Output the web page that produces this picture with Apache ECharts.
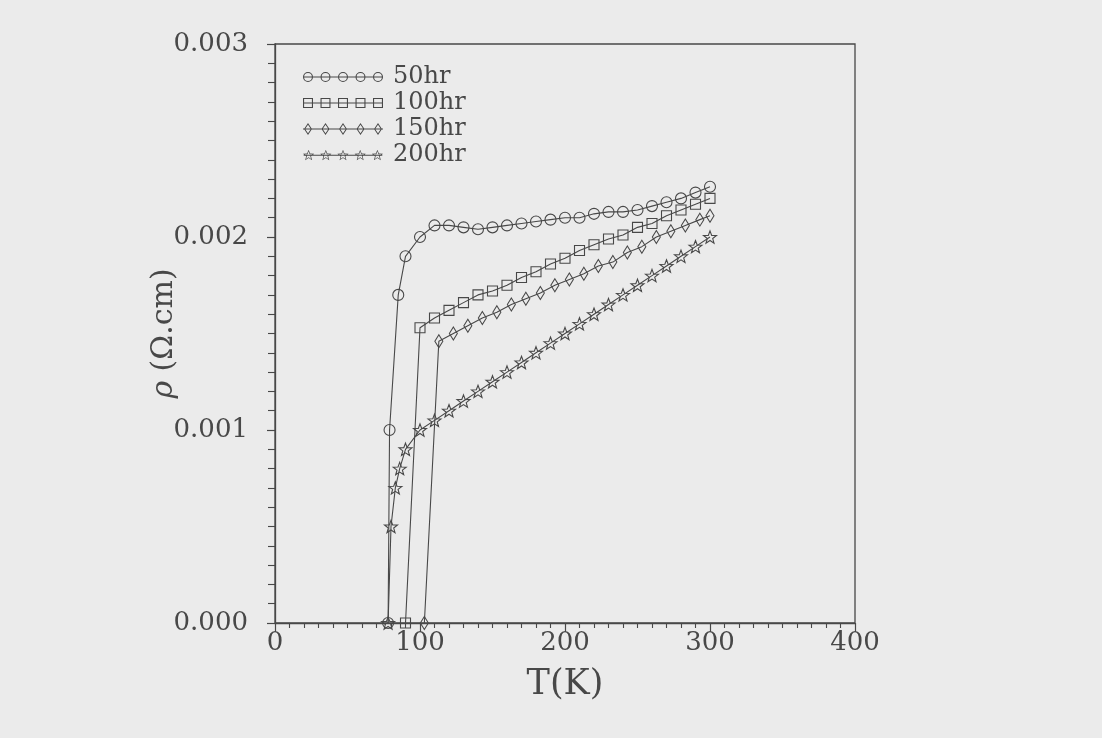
<!DOCTYPE html>
<html>
<head>
<meta charset="utf-8">
<script src="https://cdn.jsdelivr.net/npm/echarts@6/dist/echarts.min.js"></script>
<style>
  html, body { margin: 0; padding: 0; background: #ebebeb; }
  #chart { width: 1102px; height: 738px; }
</style>
</head>
<body>
<div id="chart"></div>
<script>
// Resistivity vs temperature for different milling times
const seriesNames = ['50hr', '100hr', '150hr', '200hr'];

const t50 = [78, 79, 85, 90, 100, 110, 120, 130, 140, 150, 160, 170, 180, 190, 200, 210, 220, 230, 240, 250, 260, 270, 280, 290, 300];
const rho50 = [0, 0.00100, 0.00170, 0.00190, 0.00200, 0.00206, 0.00206, 0.00205, 0.00204, 0.00205, 0.00206, 0.00207, 0.00208, 0.00209, 0.00210, 0.00210, 0.00212, 0.00213, 0.00213, 0.00214, 0.00216, 0.00218, 0.00220, 0.00223, 0.00226];

const t100 = [90, 100, 110, 120, 130, 140, 150, 160, 170, 180, 190, 200, 210, 220, 230, 240, 250, 260, 270, 280, 290, 300];
const rho100 = [0, 0.00153, 0.00158, 0.00162, 0.00166, 0.00170, 0.00172, 0.00175, 0.00179, 0.00182, 0.00186, 0.00189, 0.00193, 0.00196, 0.00199, 0.00201, 0.00205, 0.00207, 0.00211, 0.00214, 0.00217, 0.00220];

const t150 = [103, 113, 123, 133, 143, 153, 163, 173, 183, 193, 203, 213, 223, 233, 243, 253, 263, 273, 283, 293, 300];
const rho150 = [0, 0.00146, 0.00150, 0.00154, 0.00158, 0.00161, 0.00165, 0.00168, 0.00171, 0.00175, 0.00178, 0.00181, 0.00185, 0.00187, 0.00192, 0.00195, 0.00200, 0.00203, 0.00206, 0.00209, 0.00211];

const t200 = [78, 80, 83, 86, 90, 100, 110, 120, 130, 140, 150, 160, 170, 180, 190, 200, 210, 220, 230, 240, 250, 260, 270, 280, 290, 300];
const rho200 = [0, 0.00050, 0.00070, 0.00080, 0.00090, 0.00100, 0.00105, 0.00110, 0.00115, 0.00120, 0.00125, 0.00130, 0.00135, 0.00140, 0.00145, 0.00150, 0.00155, 0.00160, 0.00165, 0.00170, 0.00175, 0.00180, 0.00185, 0.00190, 0.00195, 0.00200];

const xTicks = { min: 0, max: 400, step: 100 };
const yTicks = { min: 0, max: 0.003, step: 0.001 };

const ink = '#484848';
const serif = 'DejaVu Serif';

function zip(xs, ys) { return xs.map((x, i) => [x, ys[i]]); }

// star outline points around (cx, cy)
function starPoints(cx, cy, rOut, rIn, reverse) {
  const pts = [];
  for (let k = 0; k < 10; k++) {
    const r = k % 2 === 0 ? rOut : rIn;
    const a = -Math.PI / 2 + k * Math.PI / 5;
    pts.push([cx + r * Math.cos(a), cy + r * Math.sin(a)]);
  }
  if (reverse) pts.reverse();
  return 'M' + pts.map(p => p[0].toFixed(2) + ' ' + p[1].toFixed(2)).join(' L') + ' Z';
}

// legend sample: a line with five hollow markers
const centers = [5, 22.5, 40, 57.5, 75];
const bar = 'M0 5.45 L80 5.45 L80 6.55 L0 6.55 Z';
function ringCircle(c) {
  return `M${c - 5} 6 A5 5 0 1 1 ${c + 5} 6 A5 5 0 1 1 ${c - 5} 6 Z ` +
         `M${c - 3.9} 6 A3.9 3.9 0 1 0 ${c + 3.9} 6 A3.9 3.9 0 1 0 ${c - 3.9} 6 Z`;
}
function ringSquare(c) {
  return `M${c - 5} 1 L${c + 5} 1 L${c + 5} 11 L${c - 5} 11 Z ` +
         `M${c - 3.9} 2.1 L${c - 3.9} 9.9 L${c + 3.9} 9.9 L${c + 3.9} 2.1 Z`;
}
function ringDiamond(c) {
  return `M${c} 0 L${c + 4} 6 L${c} 12 L${c - 4} 6 Z ` +
         `M${c} 1.7 L${c - 2.9} 6 L${c} 10.3 L${c + 2.9} 6 Z`;
}
function ringStar(c) {
  return starPoints(c, 6.3, 6, 2.6, false) + ' ' + starPoints(c, 6.3, 4.3, 1.75, true);
}
function legendIcon(fn) { return 'path://' + bar + ' ' + centers.map(fn).join(' '); }

const starSymbol = 'path://' + starPoints(6, 6.3, 6, 2.5, false);

const symbols = [
  { symbol: 'circle', size: 11 },
  { symbol: 'rect', size: 10 },
  { symbol: 'diamond', size: [8, 13] },
  { symbol: starSymbol, size: 13 }
];
const icons = [legendIcon(ringCircle), legendIcon(ringSquare), legendIcon(ringDiamond), legendIcon(ringStar)];
const dataSets = [zip(t50, rho50), zip(t100, rho100), zip(t150, rho150), zip(t200, rho200)];

const chart = echarts.init(document.getElementById('chart'), null, { renderer: 'canvas' });

chart.setOption({
  backgroundColor: '#ebebeb',
  animation: false,
  grid: {
    left: 275, right: 247, top: 44, bottom: 115,
    show: true, borderColor: ink, borderWidth: 1.3, backgroundColor: 'transparent'
  },
  legend: {
    orient: 'vertical',
    left: 298, top: 60,
    itemWidth: 80, itemHeight: 12, itemGap: 2,
    textStyle: { fontFamily: serif, fontSize: 24, color: ink, lineHeight: 24, padding: [0, 0, 0, 5] },
    data: seriesNames.map((n, i) => ({ name: n, icon: icons[i], itemStyle: { color: ink, borderWidth: 0 } }))
  },
  xAxis: {
    type: 'value',
    min: xTicks.min, max: xTicks.max, interval: xTicks.step,
    name: 'T(K)',
    nameLocation: 'middle', nameGap: 44,
    nameTextStyle: { fontFamily: serif, fontSize: 35, color: ink },
    axisLine: { lineStyle: { color: ink, width: 1.3 } },
    axisTick: { show: true, length: 9, lineStyle: { color: ink, width: 1.2 } },
    minorTick: { show: true, splitNumber: 10, length: 5, lineStyle: { color: ink, width: 1.1 } },
    splitLine: { show: false },
    axisLabel: { fontFamily: serif, fontSize: 26, color: ink, margin: 7 }
  },
  yAxis: {
    type: 'value',
    min: yTicks.min, max: yTicks.max, interval: yTicks.step,
    name: '{i|ρ} (Ω.cm)',
    nameLocation: 'middle', nameGap: 96, nameRotate: 90,
    nameMoveOverlap: false,
    nameTextStyle: {
      fontFamily: serif, fontSize: 30, color: ink,
      rich: { i: { fontFamily: serif, fontStyle: 'italic', fontSize: 30, color: ink } }
    },
    axisLine: { lineStyle: { color: ink, width: 1.3 } },
    axisTick: { show: true, length: 8, lineStyle: { color: ink, width: 1.2 } },
    minorTick: { show: true, splitNumber: 10, length: 7, lineStyle: { color: ink, width: 1.1 } },
    splitLine: { show: false },
    axisLabel: { fontFamily: serif, fontSize: 26, color: ink, margin: 27, formatter: v => v.toFixed(3) }
  },
  series: seriesNames.map((n, i) => ({
    name: n,
    type: 'line',
    data: dataSets[i],
    symbol: symbols[i].symbol,
    symbolSize: symbols[i].size,
    symbolKeepAspect: true,
    showAllSymbol: true,
    lineStyle: { color: ink, width: 1.1 },
    itemStyle: { color: 'rgba(0,0,0,0)', borderColor: ink, borderWidth: 1.1 },
    emphasis: { disabled: true }
  }))
});
</script>
</body>
</html>
